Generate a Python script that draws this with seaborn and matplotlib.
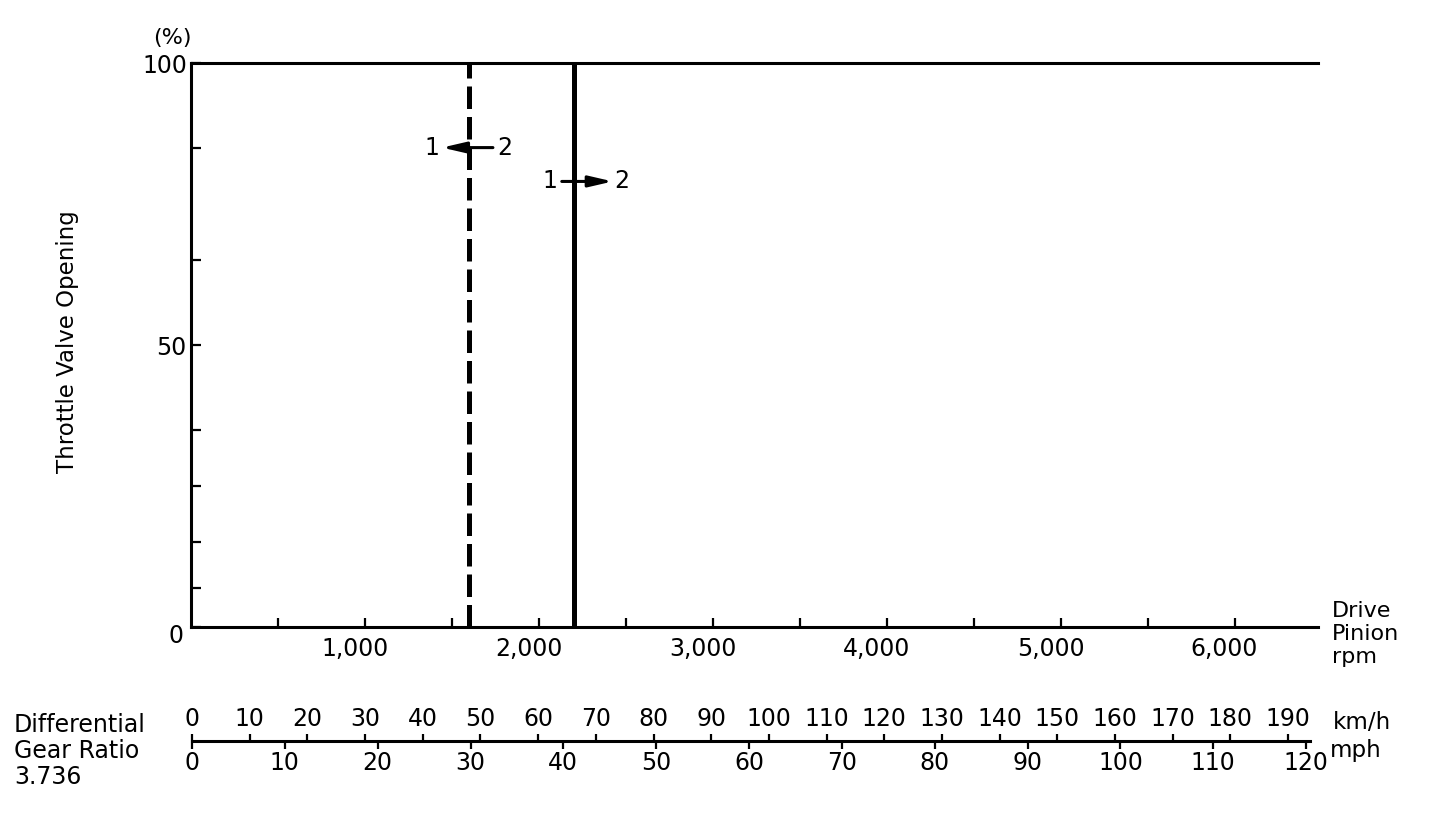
import numpy as np
import pandas as pd
import seaborn as sns
import matplotlib.pyplot as plt
from matplotlib.transforms import ScaledTranslation

sns.set_style('ticks')
plt.rcParams['font.family'] = ['DejaVu Sans']
plt.rcParams['text.color'] = 'black'
plt.rcParams['axes.labelcolor'] = 'black'
plt.rcParams['xtick.color'] = 'black'
plt.rcParams['ytick.color'] = 'black'

###----- data -----###
shift_down_rpm = 1600   # 1 <- 2 (dashed)
shift_up_rpm = 2200     # 1 -> 2 (solid)
throttle_range = [0, 100]

rpm_major = [1000, 2000, 3000, 4000, 5000, 6000]
rpm_labels = ['1,000', '2,000', '3,000', '4,000', '5,000', '6,000']
rpm_minor = [500, 1500, 2500, 3500, 4500, 5500]
rpm_max = 6480

thr_major = [0, 50, 100]
thr_labels = ['0', '50', '100']
thr_minor = [7, 15, 25, 35, 65, 85]

kmh_ticks = [0, 10, 20, 30, 40, 50, 60, 70, 80, 90, 100, 110, 120, 130, 140, 150, 160, 170, 180, 190]
mph_ticks = [0, 10, 20, 30, 40, 50, 60, 70, 80, 90, 100, 110, 120]
kmh_max = 193.8
kmh_per_mph = 1.609344

shift_df = pd.DataFrame({
    'rpm': [shift_down_rpm, shift_down_rpm, shift_up_rpm, shift_up_rpm],
    'throttle': throttle_range + throttle_range,
    'shift': ['down', 'down', 'up', 'up'],
})

###----- figure -----###
W, H = 1440, 838
fig = plt.figure(figsize=(W / 100, H / 100), dpi=100)

def fx(px):
    return px / W

def fy(py):
    return 1 - py / H

ax = fig.add_axes([fx(191), fy(627), fx(1318) - fx(191), fy(63) - fy(627)])
sns.lineplot(data=shift_df, x='rpm', y='throttle', style='shift', units='shift',
             estimator=None, sort=False, color='black', linewidth=3.6,
             dashes={'down': (4.5, 1.6), 'up': ''}, legend=False, ax=ax)
ax.set_xlim(0, rpm_max)
ax.set_ylim(0, 100)
ax.set_xlabel('')
ax.set_ylabel('')
for s in ['left', 'bottom', 'top']:
    ax.spines[s].set_linewidth(2.2)
    ax.spines[s].set_color('black')
ax.spines['right'].set_visible(False)

ax.set_xticks(rpm_major)
ax.set_xticklabels(rpm_labels)
ax.set_xticks(rpm_minor, minor=True)
ax.set_yticks(thr_major)
ax.set_yticklabels(thr_labels)
ax.set_yticks(thr_minor, minor=True)
ax.tick_params(axis='both', which='both', direction='in', width=1.6, color='black',
               labelsize=17, labelcolor='black')
ax.tick_params(axis='x', which='both', length=6.5, pad=7)
ax.tick_params(axis='y', which='both', length=7, pad=3)
ax.tick_params(axis='x', which='both', top=False)
for lab in ax.get_xticklabels():
    lab.set_transform(lab.get_transform() + ScaledTranslation(-0.1, 0, fig.dpi_scale_trans))
ax.get_yticklabels()[0].set_transform(ax.get_yticklabels()[0].get_transform()
                                      + ScaledTranslation(-0.03, -0.06, fig.dpi_scale_trans))

# shift annotations
arrow_kw = dict(arrowstyle='-|>,head_length=0.95,head_width=0.22', lw=2.2, color='black',
                mutation_scale=15, shrinkA=0, shrinkB=0)
y_dn = 85
ax.annotate('', xy=(shift_down_rpm - 157, y_dn), xytext=(shift_down_rpm + 136, y_dn), arrowprops=arrow_kw)
ax.text(shift_down_rpm - 215, y_dn, '1', ha='center', va='center', fontsize=17)
ax.text(shift_down_rpm + 205, y_dn, '2', ha='center', va='center', fontsize=17)
y_up = 79
ax.annotate('', xy=(shift_up_rpm + 225, y_up), xytext=(shift_up_rpm - 68, y_up), arrowprops=arrow_kw)
ax.text(shift_up_rpm - 137, y_up, '1', ha='center', va='center', fontsize=17)
ax.text(shift_up_rpm + 277, y_up, '2', ha='center', va='center', fontsize=17)

# texts around the main axes
fig.text(fx(172), fy(38), '(%)', ha='center', va='center', fontsize=16)
fig.text(fx(68), fy(342), 'Throttle Valve Opening', rotation=90, ha='center', va='center', fontsize=16.5)
fig.text(fx(1332), fy(634), 'Drive\nPinion\nrpm', ha='left', va='center', fontsize=16, linespacing=1.17)

###----- speed scale -----###
spd_rect = [fx(192), fy(741), fx(1310) - fx(192), 0.0001]
ax_kmh = fig.add_axes(spd_rect)
ax_kmh.set_facecolor('none')
ax_kmh.set_xlim(0, kmh_max)
ax_kmh.set_yticks([])
for s in ['left', 'right', 'bottom']:
    ax_kmh.spines[s].set_visible(False)
ax_kmh.spines['top'].set_linewidth(2.2)
ax_kmh.spines['top'].set_color('black')
ax_kmh.xaxis.set_ticks_position('top')
ax_kmh.set_xticks(kmh_ticks)
ax_kmh.set_xticklabels([str(v) for v in kmh_ticks])
ax_kmh.tick_params(axis='x', direction='out', length=5, width=1.6, pad=2, labelsize=17)

ax_mph = fig.add_axes(spd_rect)
ax_mph.set_facecolor('none')
ax_mph.set_xlim(0, kmh_max / kmh_per_mph)
ax_mph.set_yticks([])
for s in ['left', 'right', 'bottom', 'top']:
    ax_mph.spines[s].set_visible(False)
ax_mph.xaxis.set_ticks_position('bottom')
ax_mph.set_xticks(mph_ticks)
ax_mph.set_xticklabels([str(v) for v in mph_ticks])
ax_mph.tick_params(axis='x', direction='out', length=6, width=1.6, pad=1.5, labelsize=17)

fig.text(fx(1333), fy(722), 'km/h', ha='left', va='center', fontsize=16.5)
fig.text(fx(1330), fy(750), 'mph', ha='left', va='center', fontsize=16.5)
fig.text(fx(14), fy(751), 'Differential\nGear Ratio\n3.736', ha='left', va='center',
         fontsize=17, linespacing=1.12)

fig.savefig('out.png', dpi=100)
